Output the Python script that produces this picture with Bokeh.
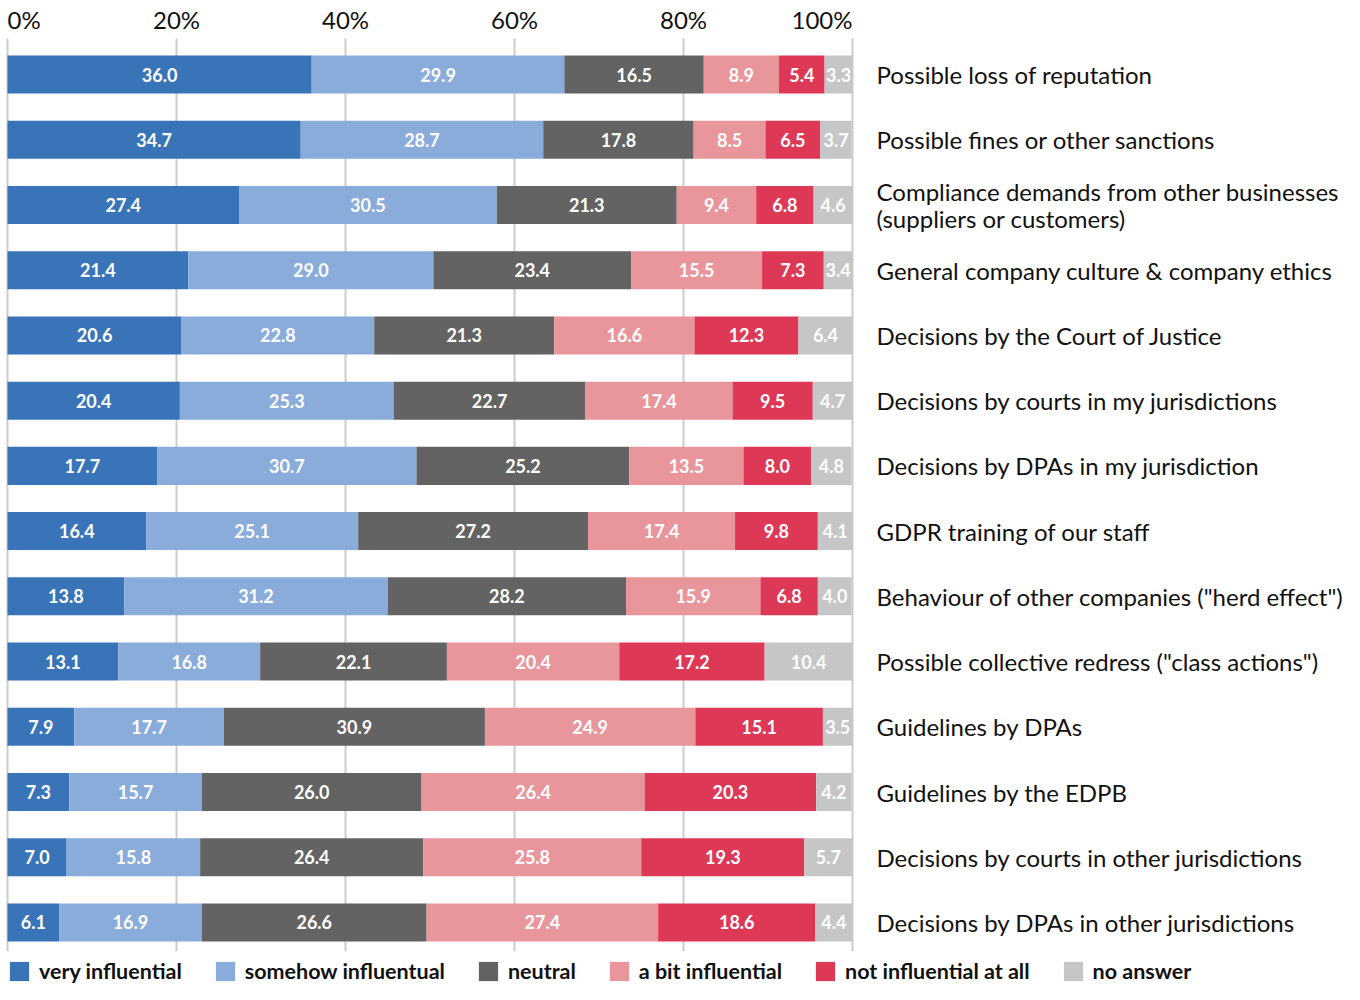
from bokeh.plotting import figure
from bokeh.models import Range1d, ColumnDataSource, Legend, LegendItem
from bokeh.core.properties import value
from bokeh.embed import file_html
from bokeh.resources import INLINE

categories = [
    "Possible loss of reputation",
    "Possible fines or other sanctions",
    "Compliance demands from other businesses\n(suppliers or customers)",
    "General company culture & company ethics",
    "Decisions by the Court of Justice",
    "Decisions by courts in my jurisdictions",
    "Decisions by DPAs in my jurisdiction",
    "GDPR training of our staff",
    "Behaviour of other companies (\"herd effect\")",
    "Possible collective redress (\"class actions\")",
    "Guidelines by DPAs",
    "Guidelines by the EDPB",
    "Decisions by courts in other jurisdictions",
    "Decisions by DPAs in other jurisdictions",
]

series_names = ["very influential", "somehow influentual", "neutral",
                "a bit influential", "not influential at all", "no answer"]

very_influential = [36.0, 34.7, 27.4, 21.4, 20.6, 20.4, 17.7, 16.4, 13.8, 13.1, 7.9, 7.3, 7.0, 6.1]
somehow_influential = [29.9, 28.7, 30.5, 29.0, 22.8, 25.3, 30.7, 25.1, 31.2, 16.8, 17.7, 15.7, 15.8, 16.9]
neutral = [16.5, 17.8, 21.3, 23.4, 21.3, 22.7, 25.2, 27.2, 28.2, 22.1, 30.9, 26.0, 26.4, 26.6]
a_bit_influential = [8.9, 8.5, 9.4, 15.5, 16.6, 17.4, 13.5, 17.4, 15.9, 20.4, 24.9, 26.4, 25.8, 27.4]
not_influential = [5.4, 6.5, 6.8, 7.3, 12.3, 9.5, 8.0, 9.8, 6.8, 17.2, 15.1, 20.3, 19.3, 18.6]
no_answer = [3.3, 3.7, 4.6, 3.4, 6.4, 4.7, 4.8, 4.1, 4.0, 10.4, 3.5, 4.2, 5.7, 4.4]

series_values = [very_influential, somehow_influential, neutral,
                 a_bit_influential, not_influential, no_answer]

colors = ["#3a74b8", "#8aacdb", "#636363", "#e8969b", "#de3857", "#c6c6c6"]

ticks = [0, 20, 40, 60, 80, 100]
tick_labels = ["0%", "20%", "40%", "60%", "80%", "100%"]
tick_align = ["left", "center", "center", "center", "center", "right"]

FONT = "Lato"
W, H = 1344, 984
PX_PER_PCT = 8.45
X0_PX = 7
ROW_PX = 65.23
TOP = 74 / ROW_PX

p = figure(width=W, height=H, output_backend="svg", toolbar_location=None,
           x_range=Range1d(-X0_PX / PX_PER_PCT, (W - X0_PX) / PX_PER_PCT),
           y_range=Range1d(TOP - H / ROW_PX, TOP),
           x_axis_location=None, y_axis_location=None,
           min_border=0, min_border_left=0, min_border_right=0,
           min_border_top=0, min_border_bottom=0)
p.outline_line_color = None
p.grid.visible = False
p.background_fill_color = "white"
p.border_fill_color = "white"

n = len(categories)
ys = [-i for i in range(n)]

# grid lines
p.segment(x0=ticks, x1=ticks, y0=[0.552] * len(ticks), y1=[-13.44] * len(ticks),
          line_color="#cccccc", line_width=2)

# tick labels (above the plot)
p.text(x=ticks, y=[TOP - 18.5 / ROW_PX] * len(ticks), text=tick_labels,
       text_align=tick_align, text_baseline="middle", text_font=value(FONT),
       text_font_size="24px", text_color="#111111")

# stacked bars
lefts = [0.0] * n
lx, ly, lt = [], [], []
bar_renderers = []
for vals, col in zip(series_values, colors):
    rights = [l + v for l, v in zip(lefts, vals)]
    src = ColumnDataSource(dict(y=ys, left=lefts, right=rights))
    r = p.hbar(y="y", left="left", right="right", height=0.583, source=src,
               fill_color=col, line_color=None)
    bar_renderers.append(r)
    for l, v, y in zip(lefts, vals, ys):
        lx.append(l + v / 2)
        ly.append(y)
        lt.append(f"{v:.1f}")
    lefts = rights

p.text(x=lx, y=ly, text=lt, text_align="center", text_baseline="middle",
       text_font=value(FONT), text_font_size="18px", text_font_style="bold",
       text_color="white")

# category labels
p.text(x=[102.84] * n, y=ys, text=categories, text_align="left",
       text_baseline="middle", text_font=value(FONT), text_font_size="24px",
       text_color="#111111", text_line_height=0.94)

# legend
items = [LegendItem(label=name, renderers=[r])
         for name, r in zip(series_names, bar_renderers)]

legend = Legend(items=items, orientation="horizontal", location=(X0_PX, 0),
                glyph_width=24, glyph_height=24, label_standoff=8, spacing=31,
                padding=0, margin=0, border_line_color=None,
                background_fill_alpha=0, label_text_font=FONT,
                label_text_font_style="bold", label_text_font_size="21.5px",
                label_text_color="#111111")
p.add_layout(legend)

open("out.html", "w").write(file_html(p, INLINE))
